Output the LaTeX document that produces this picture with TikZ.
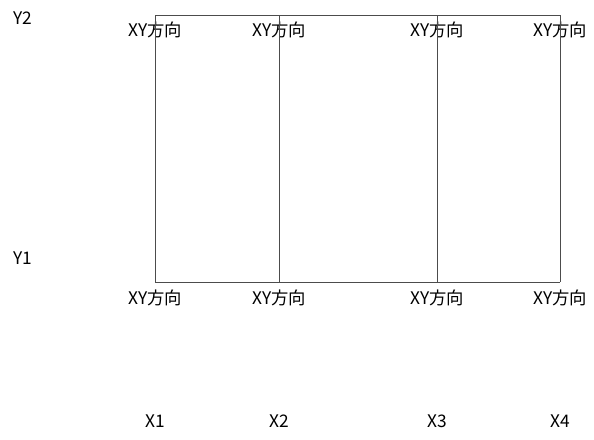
\documentclass[tikz,border=0pt]{standalone}
\usepackage{fontspec}
\setmainfont{Noto Sans CJK JP}
\tikzset{
	axislabel/.style={inner sep=0pt, font=\fontsize{13}{14}\selectfont},
	dirlabel/.style={inner sep=0pt, font=\fontsize{13}{14}\selectfont},
	gridline/.style={draw=black!70, line width=0.75pt}
}

\begin{document}
\begin{tikzpicture}[x=0.75pt, y=-0.75pt]

		\useasboundingbox (0,0) rectangle (594,440);

		% grid points
		\foreach \i/\xx in {1/155, 2/279, 3/437, 4/560} {
			\coordinate (top\i) at (\xx,15);
			\coordinate (bot\i) at (\xx,282);
			\node[dirlabel] (dtop\i) at (\xx,30) {XY方向};
			\node[dirlabel] (dbot\i) at (\xx,298) {XY方向};
			\node[axislabel] (x\i) at (\xx,421) {X\i};
		}

		\node[axislabel] (y2) at (23,18) {Y2};
		\node[axislabel] (y1) at (23,258) {Y1};

		% frame
		\draw[gridline] (top1) -- (top4);
		\draw[gridline] (bot1) -- (bot4);
		\foreach \i in {1,...,4} {
			\draw[gridline] (top\i) -- (bot\i);
		}

\end{tikzpicture}
\end{document}
